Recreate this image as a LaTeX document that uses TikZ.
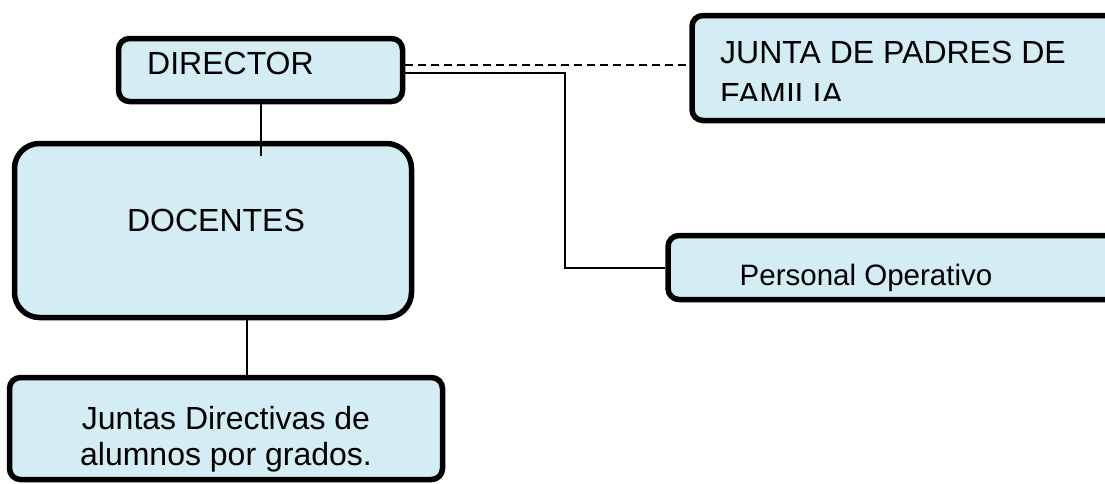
\documentclass[tikz,border=0pt]{standalone}
\usepackage{fontspec}
\setmainfont{Liberation Sans}
\usetikzlibrary{positioning}
\definecolor{boxfill}{RGB}{212,236,244}

\begin{document}
\begin{tikzpicture}[x=1pt,y=-1pt,
  box/.style={draw=black,line width=5.5pt,fill=boxfill,rounded corners=11pt,inner sep=0pt},
  txt/.style={inner sep=0pt,font=\fontsize{32}{36}\selectfont},
  link/.style={black,line width=2pt}]
\clip (0,0) rectangle (1105,483);

% boxes
\node[box,minimum width=284,minimum height=63] (dir) at (260.5,70) {};
\node[box,rounded corners=25pt,minimum width=397,minimum height=174] (doc) at (213,230.5) {};
\node[box,minimum width=433,minimum height=102] (jun) at (226,428.5) {};
\node[box,minimum width=430,minimum height=105] (pad) at (907,68) {};
\node[box,minimum width=452,minimum height=64] (per) at (894,267.5) {};

% connectors
\coordinate (dirfoot) at (260.5,156);
\coordinate (docfoot) at (247,377);
\draw[link] (dir.south) -- (dirfoot);
\draw[link] (doc.south -| docfoot) -- (docfoot);
\draw[link,dash pattern=on 8pt off 5pt] ([yshift=5pt]dir.east) -- ([yshift=5pt]dir.east -| pad.west);
\draw[link] ([yshift=-3pt]dir.east) -| ([xshift=-100pt]per.west) -- (per.west);

% texts
\node[txt,anchor=base west] (dirtxt) at (147,74) {DIRECTOR};
\node[txt,anchor=base] (doctxt) at (216,231) {DOCENTES};
\node[txt,anchor=base,font=\fontsize{29.5}{36}\selectfont] (pertxt) at (866,285) {Personal Operativo};
\node[txt,align=center,anchor=north] (juntxt) at (226,406) {Juntas Directivas de\\alumnos por grados.};
\begin{scope}
  \clip (692,15) rectangle (1105,100);
  \node[txt,align=left,anchor=north west,font=\fontsize{32}{42}\selectfont] (padtxt) at (720,41) {JUNTA DE PADRES DE\\FAMILIA};
\end{scope}
\end{tikzpicture}
\end{document}
